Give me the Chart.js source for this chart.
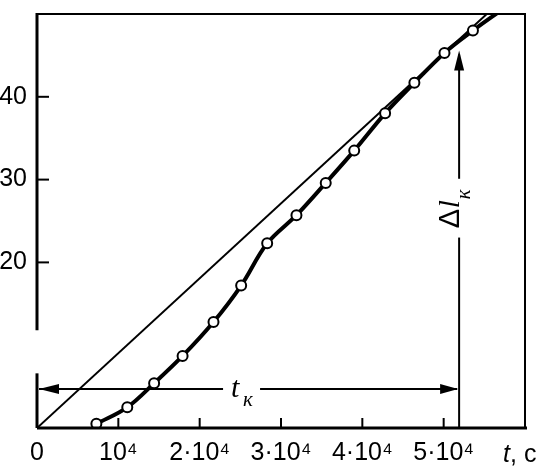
<!DOCTYPE html>
<html>
<head>
<meta charset="utf-8">
<script src="https://cdn.jsdelivr.net/npm/chart.js@4.4.1/dist/chart.umd.min.js"></script>
<style>
  html, body { margin: 0; padding: 0; background: #fff; }
</style>
</head>
<body>
<canvas id="creep" width="540" height="467"></canvas>
<script>
// measured points: time, s  /  elongation
var timeS = [7300, 11100, 14400, 17900, 21700, 25100, 28300, 31900, 35500, 39000, 42800, 46400, 50100, 53600];
var elongation = [0.5, 2.5, 5.4, 8.7, 12.8, 17.2, 22.3, 25.7, 29.6, 33.5, 38.0, 41.7, 45.3, 48.0];

// where the drawn curve runs out at the top
var curveEndT = [57000];
var curveEndL = [50.4];

// thin straight line from the origin
var tangentT = [0, 55300];
var tangentL = [0, 50];

var xTickLabels = ['0', '10⁴', '2·10⁴', '3·10⁴', '4·10⁴', '5·10⁴', ''];
var xTitle = ['t', ', c'];
var yTickLabels = [20, 30, 40];

// t_к and Δl_к markers
var tK = 51900;
var tKLevel = 4.7;
var dlKTop = 45.6;

function pts(xs, ys) {
    return xs.map(function (x, i) { return { x: x, y: ys[i] }; });
}

var FONT = "'Liberation Sans', Arial, sans-serif";

function seg(c, x0, y0, x1, y1) {
    c.beginPath();
    c.moveTo(x0, y0);
    c.lineTo(x1, y1);
    c.stroke();
}

var extras = {
    id: 'extras',
    afterDraw: function (chart) {
        var c = chart.ctx, a = chart.chartArea;
        var sx = chart.scales.x, sy = chart.scales.y;
        c.save();
        c.strokeStyle = '#000';
        c.fillStyle = '#000';

        // axes, with the break in the left one
        c.lineWidth = 3;
        seg(c, a.left, a.top - 1, a.left, sy.getPixelForValue(11.8));
        seg(c, a.left, sy.getPixelForValue(6.6), a.left, a.bottom);
        seg(c, a.left, a.bottom, a.right + 2, a.bottom);
        c.lineWidth = 2;
        seg(c, a.left, a.top, a.right + 1, a.top);
        seg(c, a.right, a.top, a.right, a.bottom);

        // inward ticks
        yTickLabels.forEach(function (v) {
            var py = sy.getPixelForValue(v);
            seg(c, a.left, py, a.left + 12, py);
        });
        for (var t = 10000; t <= 50000; t += 10000) {
            var px = sx.getPixelForValue(t);
            seg(c, px, a.bottom, px, a.bottom - 10);
        }

        // axis name under the right end
        c.textBaseline = 'alphabetic';
        c.textAlign = 'left';
        c.font = "italic 25px " + FONT;
        c.fillText(xTitle[0], a.right - 22, a.bottom + 34);
        c.font = "25px " + FONT;
        c.fillText(xTitle[1], a.right - 15, a.bottom + 34);

        // t_к double arrow
        var yk = sy.getPixelForValue(tKLevel);
        var xk = sx.getPixelForValue(tK);
        var mid = (a.left + xk) / 2;
        c.lineWidth = 2;
        seg(c, a.left + 2, yk, mid - 25, yk);
        seg(c, mid + 12, yk, xk - 2, yk);
        c.beginPath();
        c.moveTo(a.left + 2, yk); c.lineTo(a.left + 22, yk - 5); c.lineTo(a.left + 22, yk + 5);
        c.closePath(); c.fill();
        c.beginPath();
        c.moveTo(xk - 1, yk); c.lineTo(xk - 19, yk - 5); c.lineTo(xk - 19, yk + 5);
        c.closePath(); c.fill();
        c.font = "italic 30px 'Liberation Serif', serif";
        c.fillText('t', mid - 17, yk + 8);
        c.font = "italic 21px 'Liberation Serif', serif";
        c.fillText('к', mid - 5, yk + 17);

        // Δl_к vertical arrow
        var top = sy.getPixelForValue(dlKTop);
        var gapHi = sy.getPixelForValue(30.1);
        var gapLo = sy.getPixelForValue(23.0);
        seg(c, xk, a.bottom, xk, gapLo);
        seg(c, xk, gapHi, xk, top + 4);
        c.beginPath();
        c.moveTo(xk, top); c.lineTo(xk - 5, top + 20); c.lineTo(xk + 5, top + 20);
        c.closePath(); c.fill();
        c.translate(xk, (gapHi + gapLo) / 2);
        c.rotate(-Math.PI / 2);
        c.font = "29px " + FONT;
        c.fillText('Δ', -20, 0);
        c.font = "italic 29px 'Liberation Serif', serif";
        c.fillText('l', 0, 0);
        c.font = "italic 21px 'Liberation Serif', serif";
        c.fillText('к', 9, 11);
        c.restore();
    }
};

new Chart(document.getElementById('creep'), {
    type: 'scatter',
    data: {
        datasets: [
            {
                data: pts(timeS, elongation),
                showLine: false,
                pointRadius: 5,
                pointBorderWidth: 2,
                pointBackgroundColor: '#fff',
                pointBorderColor: '#000'
            },
            {
                data: pts(timeS.concat(curveEndT), elongation.concat(curveEndL)),
                showLine: true,
                borderColor: '#000',
                borderWidth: 4,
                pointRadius: 0,
                tension: 0.35
            },
            {
                data: pts(tangentT, tangentL),
                showLine: true,
                borderColor: '#000',
                borderWidth: 2,
                pointRadius: 0
            }
        ]
    },
    options: {
        responsive: false,
        animation: false,
        devicePixelRatio: 1,
        layout: { padding: { top: 14, right: 15, left: 0, bottom: 0 } },
        plugins: { legend: { display: false }, tooltip: { enabled: false } },
        scales: {
            x: {
                type: 'linear',
                min: 0,
                max: 60000,
                grid: { display: false, drawTicks: false },
                border: { display: false },
                ticks: {
                    stepSize: 10000,
                    padding: 10,
                    maxRotation: 0,
                    autoSkip: false,
                    color: '#000',
                    font: { family: FONT, size: 25 },
                    callback: function (v) { return xTickLabels[Math.round(v / 10000)]; }
                },
                afterFit: function (s) { s.height = 39; s.paddingLeft = 0; s.paddingRight = 0; }
            },
            y: {
                type: 'linear',
                min: 0,
                max: 50,
                grid: { display: false, drawTicks: false },
                border: { display: false },
                ticks: {
                    stepSize: 10,
                    padding: 10,
                    color: '#000',
                    font: { family: FONT, size: 25 },
                    callback: function (v) { return yTickLabels.indexOf(v) >= 0 ? String(v) : ''; }
                },
                afterFit: function (s) { s.width = 37; s.paddingTop = 0; s.paddingBottom = 0; }
            }
        }
    },
    plugins: [extras]
});
</script>
</body>
</html>
